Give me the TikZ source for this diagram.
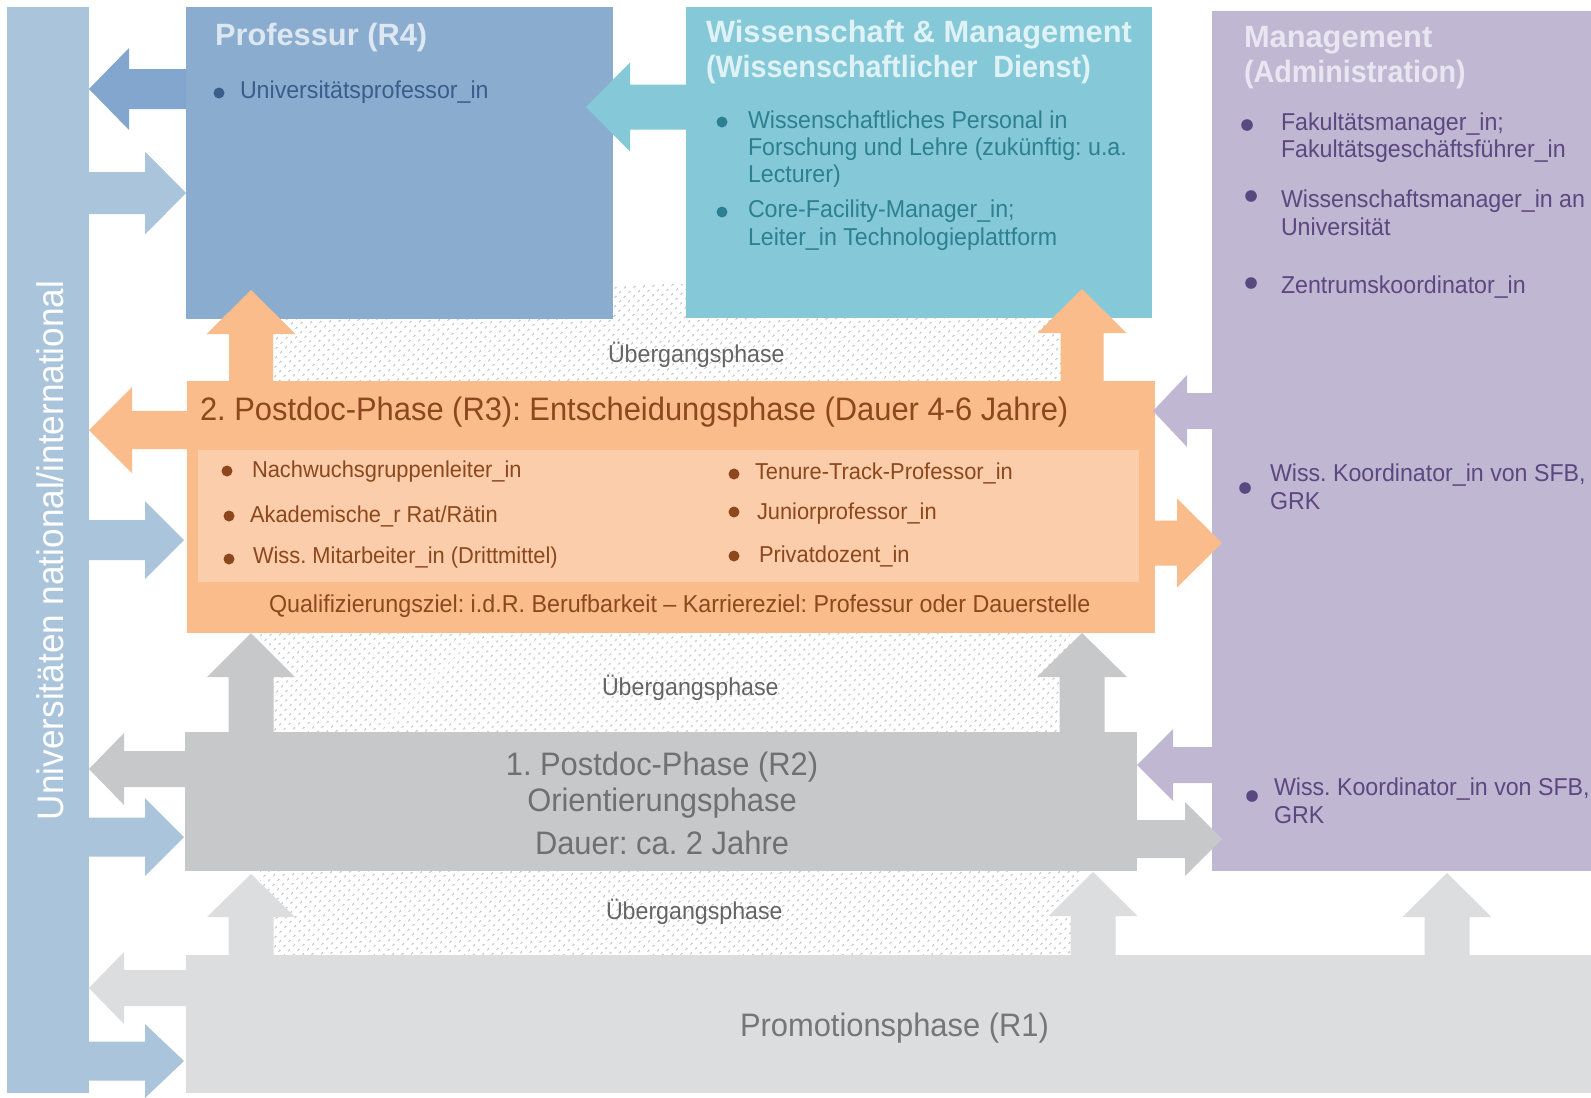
\documentclass[tikz,border=0pt]{standalone}
\usepackage{fontspec}
\setmainfont[FakeStretch=0.95]{Liberation Sans}
\newfontfamily\ttlfont{Liberation Sans}
\usetikzlibrary{patterns.meta}
\frenchspacing

\definecolor{barC}{RGB}{170,196,219}
\definecolor{profC}{RGB}{137,172,207}
\definecolor{profA}{RGB}{130,166,205}
\definecolor{profT}{RGB}{221,231,241}
\definecolor{profB}{RGB}{58,94,140}
\definecolor{wissC}{RGB}{133,201,216}
\definecolor{wissT}{RGB}{223,242,246}
\definecolor{wissB}{RGB}{45,128,146}
\definecolor{mgmtC}{RGB}{192,184,210}
\definecolor{mgmtT}{RGB}{233,229,241}
\definecolor{mgmtB}{RGB}{88,73,128}
\definecolor{orC}{RGB}{250,188,138}
\definecolor{orI}{RGB}{251,205,170}
\definecolor{orB}{RGB}{140,72,28}
\definecolor{grC}{RGB}{199,200,202}
\definecolor{grT}{RGB}{112,112,114}
\definecolor{ltC}{RGB}{220,221,223}
\definecolor{ltT}{RGB}{118,118,120}
\definecolor{ubT}{RGB}{100,100,100}
\definecolor{dotC}{RGB}{172,172,172}

\newcommand{\fsitem}{\fontsize{24.4pt}{28pt}\selectfont}
\newcommand{\fsqual}{\fontsize{24.5pt}{28pt}\selectfont}
\newcommand{\fsrthree}{\fontsize{23pt}{27pt}\selectfont}
\newcommand{\fsbig}{\fontsize{32.5pt}{36pt}\selectfont}
\newcommand{\fstitle}{\ttlfont\bfseries\fontsize{30.8pt}{34pt}\selectfont}

% horizontal block arrow: colour, x tail, x head base, x tip, y centre, shaft half, head half
\newcommand{\harr}[7]{\fill[#1] (#2,#5-#6) -- (#3,#5-#6) -- (#3,#5-#7) -- (#4,#5) -- (#3,#5+#7) -- (#3,#5+#6) -- (#2,#5+#6) -- cycle;}
% vertical block arrow: colour, y tail, y head base, y tip, x centre, shaft half, head half
\newcommand{\varr}[7]{\fill[#1] (#5-#6,#2) -- (#5-#6,#3) -- (#5-#7,#3) -- (#5,#4) -- (#5+#7,#3) -- (#5+#6,#3) -- (#5+#6,#2) -- cycle;}

\tikzset{
  txt/.style={inner sep=0pt, outer sep=0pt, anchor=base west},
  ctxt/.style={inner sep=0pt, outer sep=0pt, anchor=base},
  box/.style={inner sep=0pt, outer sep=0pt, anchor=north west, draw=none},
  dotzone/.style={pattern={Dots[distance=6.4pt, angle=45, radius=1.1pt]}, pattern color=dotC},
  ubg/.style={txt, font=\fsitem, text=ubT},
}

\begin{document}
\begin{tikzpicture}[x=1pt, y=-1pt]
\useasboundingbox (0,0) rectangle (1591,1098);
\fill[white] (0,0) rectangle (1591,1098);

% transition zones (dotted)
\fill[dotzone] (260,284) rectangle (1070,381);
\fill[dotzone] (260,633) rectangle (1070,732);
\fill[dotzone] (260,871) rectangle (1080,955);

% left bar
\node[box, fill=barC, minimum width=82pt, minimum height=1086pt] (bar) at (7,7) {};

% boxes
\node[box, fill=profC, minimum width=427pt, minimum height=312pt] (prof) at (186,7) {};
\node[box, fill=wissC, minimum width=466pt, minimum height=311pt] (wiss) at (686,7) {};
\node[box, fill=mgmtC, minimum width=379pt, minimum height=860pt] (mgmt) at (1212,11) {};
\node[box, fill=orC, minimum width=968pt, minimum height=252pt] (rthree) at (187,381) {};
\node[box, fill=orI, minimum width=941pt, minimum height=132pt] (rthreein) at (198,450) {};
\node[box, fill=grC, minimum width=952pt, minimum height=139pt] (rtwo) at (185,732) {};
\node[box, fill=ltC, minimum width=1405pt, minimum height=138pt] (rone) at (186,955) {};

% arrows towards the left bar
\harr{profA}{186}{129}{89}{89}{20}{41}
\harr{orC}{187}{132}{89}{430}{19}{43}
\harr{grC}{185}{124}{89}{769}{18}{36}
\harr{ltC}{186}{124}{89}{988}{18}{36}
% arrows from the left bar
\harr{barC}{89}{145}{186}{193}{21}{41.5}
\harr{barC}{89}{145}{184}{540}{20}{39}
\harr{barC}{89}{145}{184}{837}{19.5}{39}
\harr{barC}{89}{145}{184}{1061}{19.5}{37}
% Wissenschaft -> Professur
\harr{wissC}{687}{630}{586}{107}{22.5}{44.5}
% Management -> R3 / R2
\harr{mgmtC}{1212}{1187}{1153}{411}{18}{36}
\harr{mgmtC}{1212}{1173}{1137}{765}{18}{36}
% R3 / R2 -> Management
\harr{orC}{1155}{1177}{1222}{543}{22.5}{44.5}
\harr{grC}{1137}{1185}{1222}{839}{19}{37}
% upward arrows
\varr{orC}{381}{334}{290}{251}{22}{44.5}
\varr{orC}{381}{333}{289}{1082}{21.5}{44.5}
\varr{grC}{732}{677}{633}{251}{22.5}{44}
\varr{grC}{732}{677}{633}{1082}{22.5}{45}
\varr{ltC}{955}{917}{874}{251}{22.5}{44}
\varr{ltC}{955}{916}{872}{1093}{22.5}{44.5}
\varr{ltC}{955}{917}{873}{1447}{22.5}{44.5}

% vertical label
\node[txt, rotate=90, text=white, font=\fontsize{37pt}{40pt}\selectfont] (uni) at (63,820) {Universitäten national/international};

% Professur
\node[txt, font=\fstitle, text=profT] (profh) at (215,45) {Professur (R4)};
\fill[profB] (219,93) circle (5.5pt);
\node[txt, font=\fsitem, text=profB] (profa) at (240,98) {Universitätsprofessor\_in};

% Wissenschaft & Management
\node[txt, font=\fstitle, text=wissT] (wissh) at (706,42) {Wissenschaft \& Management};
\node[txt, font=\fstitle, text=wissT] (wissh2) at (706,77) {\scalebox{0.934}[1]{(Wissenschaftlicher\hspace*{17pt}Dienst)}};
\fill[wissB] (722,122) circle (5.5pt);
\node[txt, font=\fsitem, text=wissB] (wissa) at (748,128) {Wissenschaftliches Personal in};
\node[txt, font=\fsitem, text=wissB] (wissb) at (748,155) {Forschung und Lehre (zukünftig: u.a.};
\node[txt, font=\fsitem, text=wissB] (wissc) at (748,182) {Lecturer)};
\fill[wissB] (722,212) circle (5.5pt);
\node[txt, font=\fsitem, text=wissB] (wissd) at (748,217) {Core-Facility-Manager\_in;};
\node[txt, font=\fsitem, text=wissB] (wisse) at (748,245) {Leiter\_in Technologieplattform};

% Management
\node[txt, font=\fstitle, text=mgmtT] (mgmth) at (1244,47) {Management};
\node[txt, font=\fstitle, text=mgmtT] (mgmth2) at (1244,82) {\scalebox{0.932}[1]{(Administration)}};
\fill[mgmtB] (1247,125) circle (5.8pt);
\node[txt, font=\fsitem, text=mgmtB] (mgmta) at (1281,130) {Fakultätsmanager\_in;};
\node[txt, font=\fsitem, text=mgmtB] (mgmtb) at (1281,157) {Fakultätsgeschäftsführer\_in};
\fill[mgmtB] (1251,196) circle (5.8pt);
\node[txt, font=\fsitem, text=mgmtB] (mgmtc) at (1281,207) {Wissenschaftsmanager\_in an};
\node[txt, font=\fsitem, text=mgmtB] (mgmtd) at (1281,235) {Universität};
\fill[mgmtB] (1251,283) circle (5.8pt);
\node[txt, font=\fsitem, text=mgmtB] (mgmte) at (1281,293) {Zentrumskoordinator\_in};
\fill[mgmtB] (1245,488) circle (5.8pt);
\node[txt, font=\fsitem, text=mgmtB] (mgmtf) at (1270,481) {Wiss. Koordinator\_in von SFB,};
\node[txt, font=\fsitem, text=mgmtB] (mgmtg) at (1270,509) {GRK};
\fill[mgmtB] (1252,796) circle (5.8pt);
\node[txt, font=\fsitem, text=mgmtB] (mgmti) at (1274,795) {Wiss. Koordinator\_in von SFB,};
\node[txt, font=\fsitem, text=mgmtB] (mgmtj) at (1274,823) {GRK};

% Transition labels
\node[ubg] (ub1) at (608,362) {Übergangsphase};
\node[ubg] (ub2) at (602,695) {Übergangsphase};
\node[ubg] (ub3) at (606,919) {Übergangsphase};

% R3
\node[txt, font=\fsbig, text=orB] (r3h) at (200,420) {2. Postdoc-Phase (R3): Entscheidungsphase (Dauer 4-6 Jahre)};
\fill[orB] (227,471) circle (5.5pt);
\node[txt, font=\fsrthree, text=orB] (r3a) at (252,477) {Nachwuchsgruppenleiter\_in};
\fill[orB] (229,516) circle (5.5pt);
\node[txt, font=\fsrthree, text=orB] (r3b) at (250,522) {Akademische\_r Rat/Rätin};
\fill[orB] (229,559) circle (5.5pt);
\node[txt, font=\fsrthree, text=orB] (r3c) at (253,563) {Wiss. Mitarbeiter\_in (Drittmittel)};
\fill[orB] (734,474) circle (5.5pt);
\node[txt, font=\fsrthree, text=orB] (r3d) at (755,479) {Tenure-Track-Professor\_in};
\fill[orB] (734,512) circle (5.5pt);
\node[txt, font=\fsrthree, text=orB] (r3e) at (757,519) {Juniorprofessor\_in};
\fill[orB] (734,556) circle (5.5pt);
\node[txt, font=\fsrthree, text=orB] (r3f) at (759,562) {Privatdozent\_in};
\node[txt, font=\fsqual, text=orB] (r3q) at (269,612) {Qualifizierungsziel: i.d.R. Berufbarkeit – Karriereziel: Professur oder Dauerstelle};

% R2
\node[ctxt, font=\fsbig, text=grT] (r2a) at (662,775) {1. Postdoc-Phase (R2)};
\node[ctxt, font=\fsbig, text=grT] (r2b) at (662,811) {Orientierungsphase};
\node[ctxt, font=\fsbig, text=grT] (r2c) at (662,854) {Dauer: ca. 2 Jahre};

% R1
\node[txt, font=\fsbig, text=ltT] (r1a) at (740,1036) {Promotionsphase (R1)};
\end{tikzpicture}
\end{document}
